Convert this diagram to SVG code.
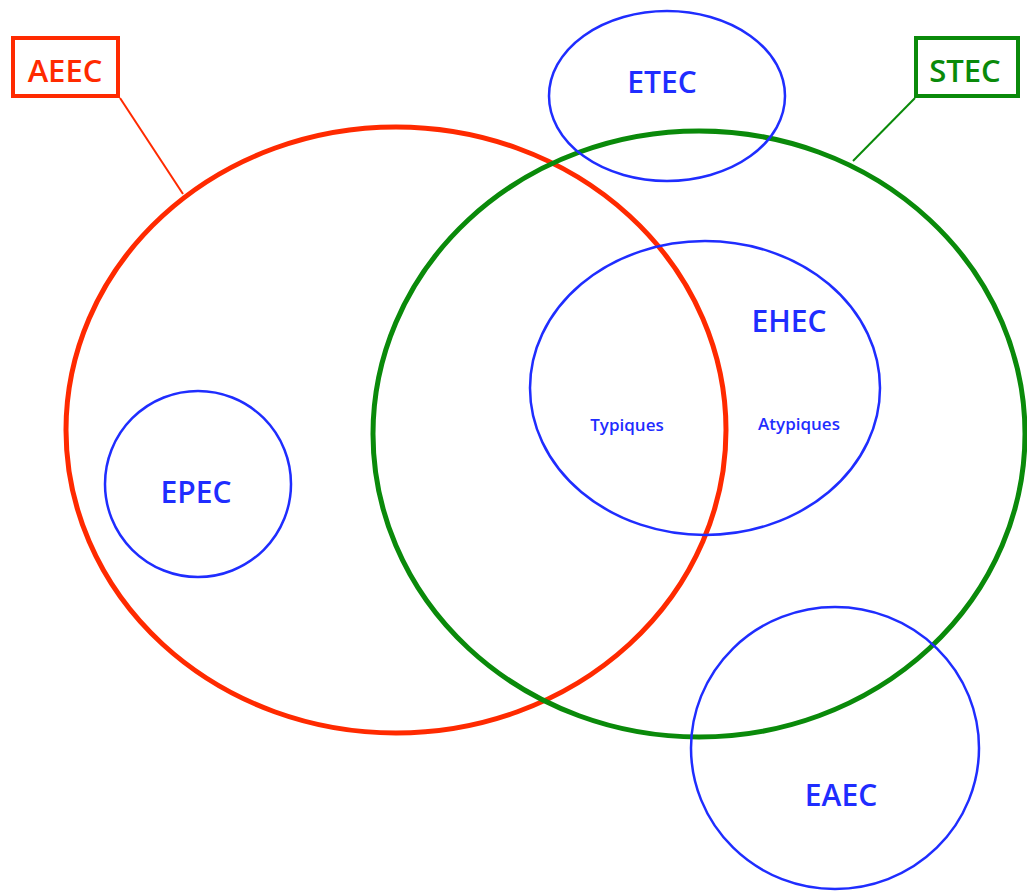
<svg xmlns="http://www.w3.org/2000/svg" width="1027" height="893" viewBox="0 0 1027 893">
<style>
.big{fill:none;stroke-width:5}
.red{stroke:#ff2a00}
.green{stroke:#0a8a0a}
.blue{fill:none;stroke:#1f2dff;stroke-width:2.5}
text{font-family:"Open Sans","Liberation Sans",sans-serif;text-anchor:middle;font-weight:600}
.lb{font-size:30px;fill:#1f2dff}
.sm{font-size:17px;fill:#1f2dff}
</style>
<rect width="1027" height="893" fill="#fff"/>
<g id="connectors">
<line x1="120" y1="98" x2="183" y2="194" stroke="#ff2a00" stroke-width="2"/>
<line x1="915" y1="98" x2="853" y2="161" stroke="#0a8a0a" stroke-width="2"/>
</g>
<g id="AEEC-circle"><ellipse class="big red" cx="396" cy="430" rx="330" ry="303"/></g>
<g id="STEC-circle"><ellipse class="big green" cx="699" cy="434" rx="326" ry="303"/></g>
<g id="ETEC"><ellipse class="blue" cx="667" cy="96" rx="118" ry="85"/><text class="lb" x="662" y="93">ETEC</text></g>
<g id="EHEC"><ellipse class="blue" cx="705" cy="388" rx="175" ry="147"/><text class="lb" x="789" y="332">EHEC</text>
<text class="sm" x="627" y="431">Typiques</text><text class="sm" x="799" y="430">Atypiques</text></g>
<g id="EPEC"><ellipse class="blue" cx="198" cy="484" rx="93" ry="93"/><text class="lb" x="196" y="503">EPEC</text></g>
<g id="EAEC"><ellipse class="blue" cx="835" cy="748" rx="144" ry="141"/><text class="lb" x="841" y="806">EAEC</text></g>
<g id="AEEC"><rect x="13" y="38" width="105" height="58" fill="#fff" stroke="#ff2a00" stroke-width="4"/><text x="65" y="82" font-size="31" fill="#ff2a00">AEEC</text></g>
<g id="STEC"><rect x="916" y="38" width="102" height="58" fill="#fff" stroke="#0a8a0a" stroke-width="4"/><text x="965" y="82" font-size="31" fill="#0a8a0a">STEC</text></g>
</svg>
